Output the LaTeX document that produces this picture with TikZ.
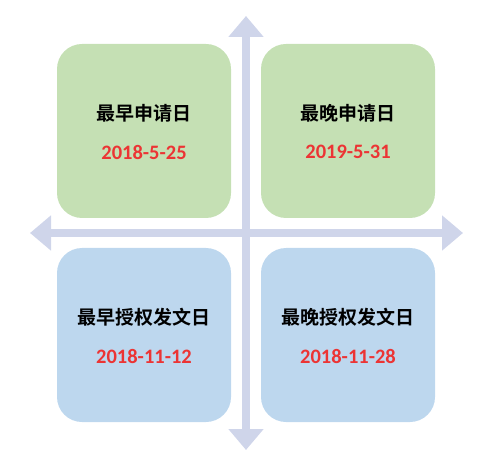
\documentclass[tikz,border=0pt]{standalone}
\usepackage{fontspec}
\setmainfont{Carlito}
\newfontfamily\cjk{Noto Sans CJK SC Bold}
\usetikzlibrary{arrows.meta}
\definecolor{boxgreen}{RGB}{197,224,180}
\definecolor{boxblue}{RGB}{189,215,238}
\definecolor{axiscol}{RGB}{207,213,234}
\definecolor{datered}{RGB}{236,52,52}
\tikzset{
  quad/.style={minimum width=174pt, minimum height=174pt, rounded corners=25pt, inner sep=0pt},
  greenbox/.style={quad, fill=boxgreen},
  bluebox/.style={quad, fill=boxblue},
  titletext/.style={inner sep=0pt, font=\cjk\fontsize{19}{22}\selectfont, text=black},
  datetext/.style={inner sep=0pt, font=\bfseries\fontsize{20.5}{24}\selectfont, text=datered},
  axisline/.style={draw=axiscol, line width=8pt, {Triangle[length=21pt,width=34pt]}-{Triangle[length=21pt,width=34pt]}}
}
\begin{document}
\begin{tikzpicture}[x=1pt,y=1pt]
\useasboundingbox (0,0) rectangle (497,466);
\coordinate (vtop) at (246,450);
\coordinate (vbot) at (246,16);
\coordinate (hleft) at (30,233);
\coordinate (hright) at (463,233);
\draw[axisline] (vbot) -- (vtop);
\draw[axisline] (hleft) -- (hright);
\node[greenbox] (tl) at (144,335) {};
\node[greenbox] (tr) at (348,335) {};
\node[bluebox] (bl) at (144,131) {};
\node[bluebox] (br) at (348,131) {};
\node[titletext] (tlt) at ([yshift=18pt]tl.center) {最早申请日};
\node[datetext] (tld) at ([yshift=-21pt]tl.center) {2018-5-25};
\node[titletext] (trt) at ([yshift=18pt]tr.center) {最晚申请日};
\node[datetext] (trd) at ([yshift=-21pt]tr.center) {2019-5-31};
\node[titletext] (blt) at ([yshift=18pt]bl.center) {最早授权发文日};
\node[datetext] (bld) at ([yshift=-21pt]bl.center) {2018-11-12};
\node[titletext] (brt) at ([yshift=18pt]br.center) {最晚授权发文日};
\node[datetext] (brd) at ([yshift=-21pt]br.center) {2018-11-28};
\end{tikzpicture}
\end{document}
